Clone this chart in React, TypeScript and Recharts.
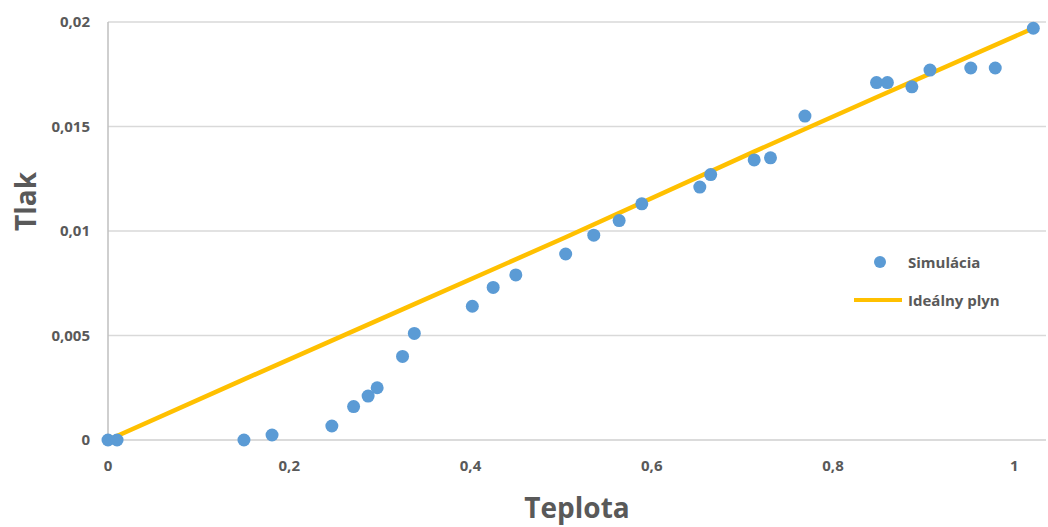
import {
  ComposedChart,
  Scatter,
  Line,
  XAxis,
  YAxis,
  CartesianGrid,
} from "recharts";

// Simulation points (teplota, tlak)
const simX = [
  0, 0.01, 0.15, 0.181, 0.247, 0.271, 0.287, 0.297, 0.325, 0.338, 0.402,
  0.425, 0.45, 0.505, 0.536, 0.564, 0.589, 0.653, 0.665, 0.713, 0.731, 0.769,
  0.848, 0.86, 0.887, 0.907, 0.952, 0.979, 1.021,
];
const simY = [
  0, 0, 0, 0.00024, 0.00067, 0.0016, 0.0021, 0.0025, 0.004, 0.0051, 0.0064,
  0.0073, 0.0079, 0.0089, 0.0098, 0.0105, 0.0113, 0.0121, 0.0127, 0.0134,
  0.0135, 0.0155, 0.0171, 0.0171, 0.0169, 0.0177, 0.0178, 0.0178, 0.0197,
];

// Ideal gas line
const idealX = [0, 0.15, 0.338, 0.505, 0.713, 0.848, 1.021];
const idealY = [0, 0.0029, 0.0065, 0.0097, 0.0138, 0.0164, 0.0197];

const xTicks = [0, 0.2, 0.4, 0.6, 0.8, 1];
const yTicks = [0, 0.005, 0.01, 0.015, 0.02];

const simData = simX.map((x, i) => ({ x, y: simY[i] }));
const idealData = idealX.map((x, i) => ({ x, y: idealY[i] }));

const BLUE = "#5B9BD5";
const GOLD = "#FFC000";
const TEXT = "#595959";
const FONT = "'Open Sans', sans-serif";

const fmt = (v: number) => String(v).replace(".", ",");

function Dot(props: any) {
  const { cx, cy } = props;
  if (cx == null || cy == null) return null;
  return <circle cx={cx} cy={cy} r={6.5} fill={BLUE} />;
}

function LegendBox() {
  return (
    <div
      style={{
        position: "absolute",
        left: 852,
        top: 250,
        fontFamily: FONT,
        fontWeight: 700,
        fontSize: 15,
        color: TEXT,
      }}
    >
      <div style={{ display: "flex", alignItems: "center", height: 24 }}>
        <svg width={52} height={16}>
          <circle cx={28} cy={8} r={6} fill={BLUE} />
        </svg>
        <span style={{ marginLeft: 4 }}>Simulácia</span>
      </div>
      <div style={{ display: "flex", alignItems: "center", height: 24, marginTop: 14 }}>
        <svg width={52} height={16}>
          <line x1={2} y1={8} x2={50} y2={8} stroke={GOLD} strokeWidth={4} />
        </svg>
        <span style={{ marginLeft: 4 }}>Ideálny plyn</span>
      </div>
    </div>
  );
}

export default function App() {
  return (
    <div style={{ position: "absolute", left: 0, top: 0, background: "#fff" }}>
      <ComposedChart
        width={1048}
        height={527}
        margin={{ top: 22, right: 2, bottom: 0, left: 0 }}
      >
        <CartesianGrid vertical={false} stroke="#D9D9D9" strokeWidth={1.5} />
        <XAxis
          type="number"
          dataKey="x"
          domain={[0, 1.035]}
          ticks={xTicks}
          tickFormatter={fmt}
          axisLine={{ stroke: "#D9D9D9", strokeWidth: 1.5 }}
          tickLine={false}
          tickMargin={14}
          height={87}
          tick={{ fill: TEXT, fontSize: 15, fontWeight: 700, fontFamily: FONT }}
          label={{
            value: "Teplota",
            position: "insideBottom",
            offset: 9,
            fill: TEXT,
            fontSize: 28,
            fontWeight: 700,
            fontFamily: FONT,
          }}
        />
        <YAxis
          type="number"
          dataKey="y"
          domain={[0, 0.02]}
          ticks={yTicks}
          tickFormatter={fmt}
          axisLine={{ stroke: "#BFBFBF", strokeWidth: 1.5 }}
          tickLine={false}
          tickMargin={12}
          width={108}
          tick={{ fill: TEXT, fontSize: 15, fontWeight: 700, fontFamily: FONT }}
          label={{
            value: "Tlak",
            angle: -90,
            position: "insideLeft",
            offset: 26,
            fill: TEXT,
            fontSize: 28,
            fontWeight: 700,
            fontFamily: FONT,
          }}
        />
        <Line
          data={idealData}
          dataKey="y"
          type="linear"
          stroke={GOLD}
          strokeWidth={4.5}
          dot={false}
          activeDot={false}
          isAnimationActive={false}
        />
        <Scatter
          data={simData}
          dataKey="y"
          fill={BLUE}
          shape={Dot}
          isAnimationActive={false}
        />
      </ComposedChart>
      <LegendBox />
    </div>
  );
}
